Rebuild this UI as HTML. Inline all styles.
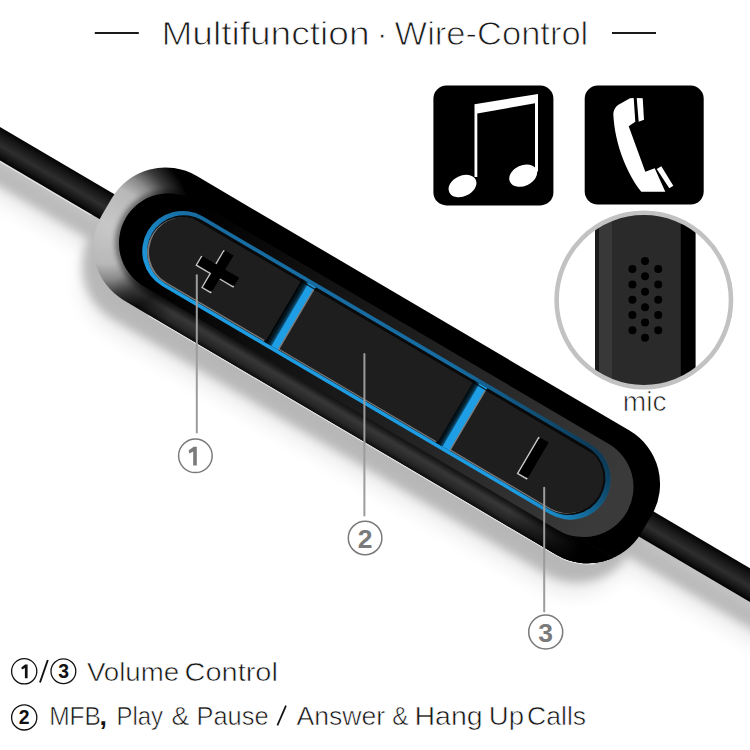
<!DOCTYPE html>
<html><head><meta charset="utf-8">
<style>
html,body{margin:0;padding:0;background:#fff;width:750px;height:750px;overflow:hidden}
svg{display:block}
text{font-family:"Liberation Sans",sans-serif}
</style></head>
<body>
<svg width="750" height="750" viewBox="0 0 750 750">
<defs>
  <linearGradient id="cab" x1="0" y1="0" x2="0" y2="1">
    <stop offset="0" stop-color="#030303"/>
    <stop offset="0.2" stop-color="#151515"/>
    <stop offset="0.55" stop-color="#2e2e2e"/>
    <stop offset="0.85" stop-color="#121212"/>
    <stop offset="1" stop-color="#000"/>
  </linearGradient>
  <linearGradient id="band" gradientUnits="userSpaceOnUse" x1="0" y1="48" x2="0" y2="73">
    <stop offset="0" stop-color="#1a1a1a"/>
    <stop offset="0.4" stop-color="#383838"/>
    <stop offset="0.75" stop-color="#262626"/>
    <stop offset="1" stop-color="#080808"/>
  </linearGradient>
  <radialGradient id="cap" gradientUnits="userSpaceOnUse" cx="134" cy="16" r="86">
    <stop offset="0" stop-color="#c8c8c8"/>
    <stop offset="0.45" stop-color="#b8b8b8"/>
    <stop offset="0.62" stop-color="#8a8a8a"/>
    <stop offset="0.8" stop-color="#3a3a3a"/>
    <stop offset="1" stop-color="#000"/>
  </radialGradient>
  <linearGradient id="face" gradientUnits="userSpaceOnUse" x1="200" y1="0" x2="700" y2="0">
    <stop offset="0" stop-color="#000"/>
    <stop offset="0.3" stop-color="#121212"/>
    <stop offset="0.7" stop-color="#282828"/>
    <stop offset="1" stop-color="#3a3a3a"/>
  </linearGradient>
  <linearGradient id="bandfade" gradientUnits="userSpaceOnUse" x1="625" y1="0" x2="705" y2="0">
    <stop offset="0" stop-color="#000" stop-opacity="0"/>
    <stop offset="1" stop-color="#000" stop-opacity="1"/>
  </linearGradient>
  <linearGradient id="blue" gradientUnits="userSpaceOnUse" x1="0" y1="-42" x2="0" y2="42">
    <stop offset="0" stop-color="#176a9e"/>
    <stop offset="1" stop-color="#1e9ee4"/>
  </linearGradient>
  <linearGradient id="gapsh" x1="0" y1="0" x2="1" y2="0">
    <stop offset="0" stop-color="#000"/>
    <stop offset="0.6" stop-color="#06202e"/>
    <stop offset="1" stop-color="#0e5d88"/>
  </linearGradient>
  <linearGradient id="fadein" gradientUnits="userSpaceOnUse" x1="170" y1="0" x2="235" y2="0">
    <stop offset="0" stop-color="#000"/>
    <stop offset="1" stop-color="#fff"/>
  </linearGradient>
  <mask id="bandmask" maskUnits="userSpaceOnUse" x="0" y="0" width="900" height="100"><rect x="100" y="40" width="700" height="40" fill="url(#fadein)"/></mask>
  <linearGradient id="bluedark" gradientUnits="userSpaceOnUse" x1="690" y1="-45" x2="630" y2="45">
    <stop offset="0" stop-color="#000" stop-opacity="0.55"/>
    <stop offset="1" stop-color="#000" stop-opacity="0"/>
  </linearGradient>
  <clipPath id="lowerhalf"><rect x="-100" y="8" width="215" height="80"/><rect x="215" y="60" width="900" height="30"/></clipPath>
  <clipPath id="sil"><rect x="124" y="-72" width="626" height="144" rx="62"/></clipPath>
  <clipPath id="inner"><rect x="178.5" y="-35" width="516" height="70" rx="35"/></clipPath>
  <clipPath id="inner2"><rect x="176.5" y="-36.6" width="520" height="73.2" rx="36.6"/></clipPath>
  <clipPath id="micclip"><circle cx="643.8" cy="300" r="86"/></clipPath>
  <filter id="blur" x="-20%" y="-30%" width="140%" height="160%"><feGaussianBlur stdDeviation="9"/></filter>
  <filter id="blur3" x="-10%" y="-30%" width="120%" height="160%"><feGaussianBlur stdDeviation="2.5"/></filter>
  <filter id="blur2" x="-20%" y="-30%" width="140%" height="160%"><feGaussianBlur stdDeviation="5"/></filter>
</defs>

<!-- shadow -->
<g transform="translate(-11 19)" filter="url(#blur2)" opacity="0.22">
  <g transform="translate(0 143.8) rotate(30.47)">
    <rect x="-80" y="-15" width="300" height="30" fill="#000"/>
    <rect x="700" y="-15" width="400" height="30" fill="#000"/>
    <rect x="124" y="-72" width="626" height="144" rx="62" fill="#000"/>
  </g>
</g>
<g transform="translate(-14 32)" filter="url(#blur)" opacity="0.07">
  <g transform="translate(0 143.8) rotate(30.47)">
    <rect x="-80" y="-15" width="300" height="30" fill="#000"/>
    <rect x="700" y="-15" width="400" height="30" fill="#000"/>
    <rect x="124" y="-72" width="626" height="144" rx="62" fill="#000"/>
  </g>
</g>

<g transform="translate(0 143.8) rotate(30.47)" clip-path="url(#lowerhalf)">
  <g fill="none" stroke="#e4e4e4" stroke-width="2.6">
    <rect x="-80" y="-14.5" width="260" height="29"/>
    <rect x="700" y="-14.5" width="400" height="29"/>
    <rect x="124" y="-72" width="626" height="144" rx="62"/>
  </g>
</g>
<g transform="translate(0 143.8) rotate(30.47)">
  <rect x="-80" y="-14.5" width="260" height="29" fill="url(#cab)"/>
  <rect x="700" y="-14.5" width="400" height="29" fill="url(#cab)"/>
  <!-- silhouette / side -->
  <rect x="124" y="-72" width="626" height="144" rx="62" fill="url(#cap)"/>
  <g clip-path="url(#sil)">
    <rect x="100" y="46" width="700" height="30" fill="url(#band)" mask="url(#bandmask)"/>
    <rect x="500" y="46" width="300" height="30" fill="url(#bandfade)"/>
  </g>
  <!-- face -->
  <rect x="146" y="-50" width="581" height="100" rx="50" fill="none" stroke="#000" stroke-width="7" opacity="0.45" filter="url(#blur3)" clip-path="url(#sil)"/>
  <rect x="146" y="-50" width="581" height="100" rx="50" fill="url(#face)"/>
  <!-- blue ring -->
  <rect x="171.5" y="-40.3" width="530.5" height="80.6" rx="40.3" fill="url(#blue)"/>
  <rect x="171.5" y="-40.3" width="530.5" height="80.6" rx="40.3" fill="url(#bluedark)"/>
  <rect x="176.5" y="-36.6" width="520" height="73.2" rx="36.6" fill="#080a0c"/>
  <g clip-path="url(#inner2)">
    <rect x="335" y="-40" width="10" height="80" fill="#1e9ee4"/>
    <rect x="533.5" y="-40" width="10.5" height="80" fill="#1e9ee4"/>
    <rect x="329" y="-40" width="7.5" height="80" fill="url(#gapsh)"/>
    <rect x="527.5" y="-40" width="7.5" height="80" fill="url(#gapsh)"/>
  </g>
  <g fill="#7c7c7c" transform="translate(-1.4 1.3)">
    <path d="M329 -35 H213.5 A35 35 0 0 0 213.5 35 H329 Z"/>
    <rect x="345" y="-35" width="183.5" height="70"/>
    <path d="M544 -35 H659.5 A35 35 0 0 1 659.5 35 H544 Z"/>
  </g>
  <g fill="#1e1e1e">
    <path d="M329 -35 H213.5 A35 35 0 0 0 213.5 35 H329 Z"/>
    <rect x="345" y="-35" width="183.5" height="70"/>
    <path d="M544 -35 H659.5 A35 35 0 0 1 659.5 35 H544 Z"/>
  </g>
  <g clip-path="url(#inner)">
    <rect x="150" y="-36" width="570" height="2.4" fill="#000" opacity="0.75"/>
  </g>
  <!-- plus -->
  <g transform="translate(253 -1)">
    <path d="M-21.3 -5 H-5 V-21.3 H5 V-5 H21.3 V5 H5 V21.3 H-5 V5 H-21.3 Z" fill="none" stroke="#c8c8c8" stroke-width="1.3" transform="translate(-1 1.1)"/>
    <path d="M-21.3 -5 H-5 V-21.3 H5 V-5 H21.3 V5 H5 V21.3 H-5 V5 H-21.3 Z" fill="#000"/>
  </g>
  <!-- minus -->
  <g transform="translate(619.5 -0.2)">
    <rect x="-5.2" y="-20.7" width="10.4" height="41.4" fill="none" stroke="#c8c8c8" stroke-width="1.4" transform="translate(-1 1.2)"/>
    <rect x="-5.2" y="-20.7" width="10.4" height="41.4" fill="#000"/>
  </g>
</g>

<!-- leader lines -->
<g stroke="#9c9c9c" stroke-width="2" stroke-linecap="round">
  <line x1="196.8" y1="275.3" x2="196.8" y2="432.6"/>
  <line x1="364.4" y1="354" x2="364.4" y2="515.6"/>
  <line x1="544.2" y1="487.7" x2="544.2" y2="611.4"/>
</g>
<g fill="none" stroke="#7a7a7a" stroke-width="1.5">
  <circle cx="195.4" cy="455.8" r="16.8"/>
  <circle cx="365.1" cy="538" r="16.8"/>
  <circle cx="545.7" cy="632" r="17"/>
</g>
<path d="M193.6 446.8 L196.8 446.8 L196.8 465.4 L193.2 465.4 L193.2 451.5 L189.4 453.6 L188.6 450.6 Z" fill="#7a7a7a"/>
<g fill="#7a7a7a" font-size="26.5" font-weight="bold" text-anchor="middle">
  <text x="365.1" y="548.2">2</text>
  <text x="545.5" y="642.3">3</text>
</g>

<!-- title -->
<g stroke="#1a1a1a" stroke-width="2">
  <line x1="94.8" y1="33" x2="138.8" y2="33"/>
  <line x1="612" y1="33" x2="656" y2="33"/>
</g>
<g font-size="34" fill="#1a1a1a" stroke="#fff" stroke-width="0.9">
  <text x="161.4" y="44.8" textLength="208.2" lengthAdjust="spacingAndGlyphs">Multifunction</text>
  <text x="376.5" y="44.8">·</text>
  <text x="394.6" y="44.8" textLength="193.7" lengthAdjust="spacingAndGlyphs">Wire-Control</text>
</g>

<!-- music icon -->
<rect x="433.4" y="85.6" width="120" height="119.8" rx="13" fill="#000"/>
<g fill="#fff">
  <path d="M474.5 104.3 L538 94 L538 171.5 L535 171.5 L535 103.3 L477.3 113.6 L477.3 177 L474.5 177 Z"/>
  <ellipse cx="462.5" cy="186" rx="14.6" ry="10.3" transform="rotate(-25 462.5 186)"/>
  <ellipse cx="523.2" cy="175.6" rx="14.6" ry="10.3" transform="rotate(-25 523.2 175.6)"/>
</g>

<!-- phone icon -->
<rect x="584.7" y="85.6" width="119" height="119" rx="13" fill="#000"/>
<g fill="#fff">
  <path d="M613.3 113.5 Q613.8 108.5 618 105 L630 98.3 L633.7 97.9 L635.3 121.7 L628.7 126.3 L645.3 171.7 L654.7 168.3 L665.3 191.7 L641.3 191.7 C629 177 614.5 146 613.3 113.5 Z"/>
  <path d="M636.7 97.9 L642.7 98.3 L644 119.7 L638.7 121.7 Z"/>
  <path d="M656.7 169 L661.3 166.3 L673.3 185.7 L669.3 188.3 Z"/>
</g>

<!-- mic inset -->
<circle cx="643.8" cy="300" r="88" fill="#fff"/>
<g clip-path="url(#micclip)">
  <rect x="595" y="200" width="100.4" height="200" fill="#2a2a2a"/>
  <rect x="595" y="200" width="4" height="200" fill="#1a1a1a"/>
  <rect x="599" y="200" width="13" height="200" fill="#383838"/>
  <rect x="680.8" y="200" width="14.6" height="200" fill="#000"/>
  <g fill="#000">
    <circle cx="645" cy="261" r="4"/><circle cx="645" cy="276.2" r="4"/><circle cx="645" cy="291.8" r="4"/>
    <circle cx="645" cy="307.3" r="4"/><circle cx="645" cy="322.6" r="4"/><circle cx="645" cy="337.8" r="4"/>
    <circle cx="632.4" cy="269" r="4"/><circle cx="632.4" cy="284.4" r="4"/><circle cx="632.4" cy="299.7" r="4"/>
    <circle cx="632.4" cy="315" r="4"/><circle cx="632.4" cy="330.2" r="4"/>
    <circle cx="658.2" cy="269" r="4"/><circle cx="658.2" cy="284.4" r="4"/><circle cx="658.2" cy="299.7" r="4"/>
    <circle cx="658.2" cy="315" r="4"/><circle cx="658.2" cy="330.2" r="4"/>
  </g>
</g>
<circle cx="643.8" cy="300" r="87.2" fill="none" stroke="#c2c2c2" stroke-width="4.6"/>
<text x="622.8" y="411" font-size="27.7" fill="#1a1a1a" stroke="#fff" stroke-width="0.7" textLength="43.8" lengthAdjust="spacingAndGlyphs">mic</text>

<!-- bottom legend -->
<path d="M25.1 664.4 L27.6 664.4 L27.6 678.3 L24.9 678.3 L24.9 668 L22 669.6 L21.3 667.4 Z" fill="#111"/>
<g fill="none" stroke="#111" stroke-width="1.3">
  <circle cx="24.2" cy="671.3" r="12.6"/>
  <circle cx="63.4" cy="671.3" r="12.4"/>
  <circle cx="24.2" cy="717.4" r="12.6"/>
  <line x1="40" y1="682.5" x2="47.8" y2="660" stroke-width="1.9"/>
</g>
<g fill="#111" font-size="19.4" font-weight="bold" text-anchor="middle">
    <text x="63.6" y="678.3">3</text>
  <text x="24.2" y="724.3">2</text>
</g>
<g font-size="26.7" fill="#111" stroke="#fff" stroke-width="0.6" lengthAdjust="spacingAndGlyphs">
<text x="86.9" y="681.4" textLength="92.3" lengthAdjust="spacingAndGlyphs">Volume</text>
<text x="184.5" y="681.4" textLength="93.4" lengthAdjust="spacingAndGlyphs">Control</text>
<text x="49.18" y="724.8" textLength="51.77" lengthAdjust="spacingAndGlyphs">MFB</text>
<text x="116.43" y="724.8" textLength="46.61" lengthAdjust="spacingAndGlyphs">Play</text>
<text x="171.6" y="724.8" textLength="17.81" lengthAdjust="spacingAndGlyphs">&amp;</text>
<text x="196.5" y="724.8" textLength="72.15" lengthAdjust="spacingAndGlyphs">Pause</text>
<line x1="277.4" y1="725.3" x2="286" y2="705.6" stroke="#111" stroke-width="1.7"/>
<text x="296.4" y="724.8" textLength="88.73" lengthAdjust="spacingAndGlyphs">Answer</text>
<text x="392.18" y="724.8" textLength="16.19" lengthAdjust="spacingAndGlyphs">&amp;</text>
<text x="414.45" y="724.8" textLength="68.31" lengthAdjust="spacingAndGlyphs">Hang</text>
<text x="488.74" y="724.8" textLength="35.23" lengthAdjust="spacingAndGlyphs">Up</text>
<text x="527.11" y="724.8" textLength="59.03" lengthAdjust="spacingAndGlyphs">Calls</text>
<text x="99.5" y="724.8" font-weight="bold" stroke="none">,</text>
</g>
</svg>
</body></html>
